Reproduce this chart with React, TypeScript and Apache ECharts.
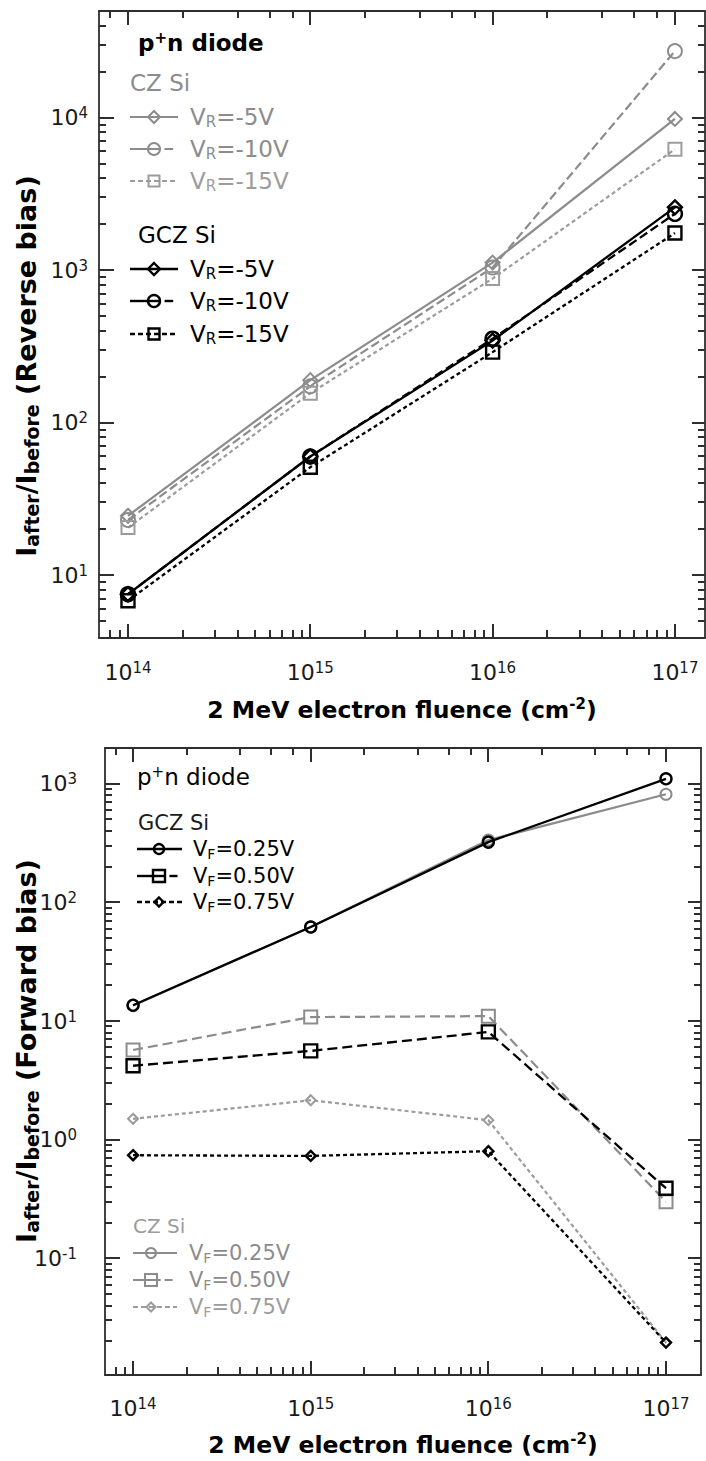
import React, { useEffect, useRef } from 'react';
import * as echarts from 'echarts';

// ---------------- data ----------------
const fluence = [1e14, 1e15, 1e16, 1e17];
const fluenceExponents = [14, 15, 16, 17];

// Reverse bias (top panel)
const czRev5V = [24.5, 190, 1120, 9800];
const czRev10V = [23, 173, 1040, 27300];
const czRev15V = [20.5, 156, 880, 6200];
const gczRev5V = [7.5, 60, 345, 2580];
const gczRev10V = [7.5, 60, 355, 2340];
const gczRev15V = [6.8, 51, 290, 1750];
const revYExponents = [1, 2, 3, 4];

// Forward bias (bottom panel)
const gczFwd025 = [13.6, 62, 322, 1100];
const gczFwd050 = [4.2, 5.6, 8.1, 0.39];
const gczFwd075 = [0.74, 0.73, 0.8, 0.0195];
const czFwd025 = [13.5, 62, 335, 815];
const czFwd050 = [5.7, 10.8, 11.0, 0.3];
const czFwd075 = [1.5, 2.15, 1.46, 0.0195];
const fwdYExponents = [-1, 0, 1, 2, 3];

// ---------------- style ----------------
const FONT = 'DejaVu Sans';
const BLACK = '#000000';
const GRAY = '#8c8c8c';
const LGRAY = '#9c9c9c';
const FRAME = '#2e2e2e';

const LONG_DASH = [9, 4];
const SHORT_DASH = [4, 3];

const ALL_MINOR = [2, 3, 4, 5, 6, 7, 8, 9];
const EVEN_MINOR = [2, 4, 6, 8];

const GRIDS = [
  { left: 99, top: 11, width: 606, height: 627 },
  { left: 105, top: 748, width: 596, height: 627 },
];

function logMinor(min: number, max: number, ks: number[]) {
  const out: number[] = [];
  for (let d = Math.floor(min); d <= Math.ceil(max); d++) {
    for (const k of ks) {
      const v = d + Math.log10(k);
      if (v > min + 0.02 && v < max - 0.005) out.push(v);
    }
  }
  return out;
}

const powRich = {
  b: { fontFamily: FONT, fontSize: 22, color: '#1a1a1a', lineHeight: 24 },
  s: { fontFamily: FONT, fontSize: 15, color: '#1a1a1a', verticalAlign: 'top', lineHeight: 14 },
};
const powFormatter = (v: number) => '{b|10}{s|' + Math.round(v) + '}';

function axisSet(
  grid: number, xr: number[], yr: number[],
  xMajors: number[], yMajors: number[], xLabelMargin: number, yLabelMargin: number
) {
  const lineOn = { show: true, onZero: false, lineStyle: { color: FRAME, width: 1.8 } };
  const common: any = {
    type: 'value', gridIndex: grid,
    splitLine: { show: false }, axisTick: { show: false }, axisLine: lineOn,
  };
  const xAxes = [
    {
      ...common, min: xr[0], max: xr[1], position: 'bottom',
      axisLabel: { show: true, customValues: xMajors, formatter: powFormatter, rich: powRich, margin: xLabelMargin, fontFamily: FONT },
    },
    { ...common, min: xr[0], max: xr[1], position: 'top', axisLabel: { show: false } },
  ];
  const yAxes = [
    {
      ...common, min: yr[0], max: yr[1], position: 'left',
      axisLabel: { show: true, customValues: yMajors, formatter: powFormatter, rich: powRich, margin: yLabelMargin, fontFamily: FONT },
    },
    { ...common, min: yr[0], max: yr[1], position: 'right', axisLabel: { show: false } },
  ];
  return { xAxes, yAxes };
}

// tick marks: positions come from the chart's own axis scales (convertToPixel)
function tickElements(chart: any, gridIdx: number, axisIndex: number, xr: number[], yr: number[], xMajors: number[], yMajors: number[]) {
  const gr = GRIDS[gridIdx];
  const els: any[] = [];
  const st = { stroke: FRAME, lineWidth: 2 };
  const bottom = gr.top + gr.height;
  const right = gr.left + gr.width;
  const xTick = (v: number, len: number, atTop: boolean) => {
    const x = Math.round(chart.convertToPixel({ xAxisIndex: axisIndex }, v));
    const y1 = atTop ? gr.top : bottom;
    const y2 = atTop ? gr.top + len : bottom - len;
    els.push({ type: 'line', shape: { x1: x, y1, x2: x, y2 }, style: st, z: 50, silent: true });
  };
  const yTick = (v: number, len: number, atRight: boolean) => {
    const y = Math.round(chart.convertToPixel({ yAxisIndex: axisIndex }, v));
    const x1 = atRight ? right : gr.left;
    const x2 = atRight ? right - len : gr.left + len;
    els.push({ type: 'line', shape: { x1, y1: y, x2, y2: y }, style: st, z: 50, silent: true });
  };
  xMajors.forEach((v) => { xTick(v, 14, false); xTick(v, 14, true); });
  logMinor(xr[0], xr[1], ALL_MINOR).forEach((v) => xTick(v, 8, false));
  logMinor(xr[0], xr[1], EVEN_MINOR).forEach((v) => xTick(v, 7, true));
  yMajors.forEach((v) => { yTick(v, 15, false); yTick(v, 13, true); });
  logMinor(yr[0], yr[1], ALL_MINOR).forEach((v) => { yTick(v, 7, false); yTick(v, 7, true); });
  return els;
}

function lineSeries(
  name: string, values: number[], axisIndex: number, color: string, width: number,
  dash: any, symbol: string, size: number, border: number, z: number
) {
  return {
    type: 'line', name,
    xAxisIndex: axisIndex, yAxisIndex: axisIndex,
    data: fluence.map((f, i) => [Math.log10(f), Math.log10(values[i])]),
    symbol, symbolSize: size, showAllSymbol: true,
    lineStyle: { color, width, type: dash },
    itemStyle: { color: 'rgba(0,0,0,0)', borderColor: color, borderWidth: border },
    emphasis: { disabled: true }, z,
  };
}

// ---------------- legend helpers (graphic) ----------------
function marker(kind: string, cx: number, cy: number, s: number, color: string, lw: number) {
  const style = { fill: 'none', stroke: color, lineWidth: lw };
  if (kind === 'circle') return { type: 'circle', shape: { cx, cy, r: s / 2 }, style, z: 110 };
  if (kind === 'rect') return { type: 'rect', shape: { x: cx - s / 2, y: cy - s / 2, width: s, height: s }, style, z: 110 };
  return {
    type: 'polygon',
    shape: { points: [[cx, cy - s / 2], [cx + s / 2, cy], [cx, cy + s / 2], [cx - s / 2, cy]] },
    style, z: 110,
  };
}

function legendEntry(
  x0: number, x1: number, y: number, mx: number, textX: number, kind: string, pattern: string,
  color: string, lw: number, msize: number, text: string, fontSize: number, subSize: number
) {
  const els: any[] = [];
  const L = x1 - x0;
  const ls = { stroke: color, lineWidth: lw };
  if (pattern === 'solid') {
    els.push({ type: 'line', shape: { x1: x0, y1: y, x2: x1, y2: y }, style: ls, z: 100 });
  } else if (pattern === 'long') {
    els.push({ type: 'line', shape: { x1: x0, y1: y, x2: x0 + 0.63 * L, y2: y }, style: ls, z: 100 });
    els.push({ type: 'line', shape: { x1: x0 + 0.72 * L, y1: y, x2: x0 + 0.9 * L, y2: y }, style: ls, z: 100 });
  } else {
    els.push({ type: 'line', shape: { x1: x0, y1: y, x2: x1, y2: y }, style: { ...ls, lineDash: [5, 3] }, z: 100 });
  }
  els.push(marker(kind, mx, y, msize, color, lw));
  els.push({
    type: 'text', x: textX, y, z: 110,
    style: {
      text, align: 'left', verticalAlign: 'middle', fill: color,
      rich: {
        v: { fontFamily: FONT, fontSize, fill: color, lineHeight: fontSize + 2 },
        sub: { fontFamily: FONT, fontSize: subSize, fill: color, verticalAlign: 'bottom', lineHeight: subSize - 3 },
      },
    },
  });
  return els;
}

function plainText(x: number, y: number, text: string, size: number, color: string, weight: string) {
  return {
    type: 'text', x, y, z: 110,
    style: {
      text, align: 'left', verticalAlign: 'middle', fill: color,
      rich: {
        a: { fontFamily: FONT, fontSize: size, fontWeight: weight, fill: color, lineHeight: size + 2 },
        sup: { fontFamily: FONT, fontSize: Math.round(size * 0.65), fontWeight: weight, fill: color, verticalAlign: 'top', lineHeight: Math.round(size * 0.6) },
      },
    },
  };
}

function yTitle(x: number, y: number, label: string) {
  return {
    type: 'text', x, y, rotation: Math.PI / 2, z: 110,
    style: {
      text: '{t|I}{s|after}{t|/I}{s|before}{t| (' + label + ')}',
      align: 'center', verticalAlign: 'middle', fill: BLACK,
      rich: {
        t: { fontFamily: FONT, fontSize: 27, fontWeight: 'bold', fill: BLACK, lineHeight: 30 },
        s: { fontFamily: FONT, fontSize: 19, fontWeight: 'bold', fill: BLACK, verticalAlign: 'bottom', lineHeight: 15 },
      },
    },
  };
}

function xTitle(x: number, y: number) {
  return {
    type: 'text', x, y, z: 110,
    style: {
      text: '{t|2 MeV electron fluence (cm}{s|-2}{t|)}',
      align: 'center', verticalAlign: 'middle', fill: BLACK,
      rich: {
        t: { fontFamily: FONT, fontSize: 23.5, fontWeight: 'bold', fill: BLACK, lineHeight: 28 },
        s: { fontFamily: FONT, fontSize: 15, fontWeight: 'bold', fill: BLACK, verticalAlign: 'top', lineHeight: 14 },
      },
    },
  };
}

export default function App() {
  const ref = useRef<HTMLDivElement>(null);

  useEffect(() => {
    if (!ref.current) return;
    const chart = echarts.init(ref.current, undefined, { renderer: 'svg' });

    const topX = [13.841, 17.165];
    const topY = [0.588, 4.699];
    const botX = [13.842, 17.197];
    const botY = [-1.983, 3.301];

    const top = axisSet(0, topX, topY, fluenceExponents, revYExponents, 22, 11);
    const bot = axisSet(1, botX, botY, fluenceExponents, fwdYExponents, 21, 28);

    const series = [
      // top panel, CZ (gray)
      lineSeries('CZ VR=-5V', czRev5V, 0, GRAY, 2.2, 'solid', 'diamond', 14, 2, 2),
      lineSeries('CZ VR=-10V', czRev10V, 0, GRAY, 2.2, LONG_DASH, 'circle', 14, 2, 2),
      lineSeries('CZ VR=-15V', czRev15V, 0, LGRAY, 2.2, SHORT_DASH, 'rect', 13, 2, 2),
      // top panel, GCZ (black)
      lineSeries('GCZ VR=-15V', gczRev15V, 0, BLACK, 2.3, SHORT_DASH, 'rect', 13, 2.4, 3),
      lineSeries('GCZ VR=-10V', gczRev10V, 0, BLACK, 2.3, LONG_DASH, 'circle', 14, 2.4, 3),
      lineSeries('GCZ VR=-5V', gczRev5V, 0, BLACK, 2.3, 'solid', 'diamond', 14, 2.4, 3),
      // bottom panel, CZ (gray)
      lineSeries('CZ VF=0.25V', czFwd025, 2, GRAY, 2.2, 'solid', 'circle', 11, 2, 2),
      lineSeries('CZ VF=0.50V', czFwd050, 2, GRAY, 2.2, [10, 5], 'rect', 13, 2, 2),
      lineSeries('CZ VF=0.75V', czFwd075, 2, LGRAY, 2.2, SHORT_DASH, 'diamond', 10, 2, 2),
      // bottom panel, GCZ (black)
      lineSeries('GCZ VF=0.25V', gczFwd025, 2, BLACK, 2.3, 'solid', 'circle', 11, 2.4, 3),
      lineSeries('GCZ VF=0.50V', gczFwd050, 2, BLACK, 2.3, [10, 5], 'rect', 13, 2.4, 3),
      lineSeries('GCZ VF=0.75V', gczFwd075, 2, BLACK, 2.3, SHORT_DASH, 'diamond', 10, 2.4, 3),
    ];

    const g: any[] = [];
    // top legend
    g.push(plainText(138, 43, '{a|p}{sup|+}{a|n diode}', 23, BLACK, 'bold'));
    g.push(plainText(130, 83, '{a|CZ Si}', 23, GRAY, 'normal'));
    g.push(...legendEntry(130, 178, 117, 154, 190, 'diamond', 'solid', GRAY, 2, 12, '{v|V}{sub|R}{v|=-5V}', 23, 15));
    g.push(...legendEntry(130, 178, 149, 154, 190, 'circle', 'long', GRAY, 2, 12, '{v|V}{sub|R}{v|=-10V}', 23, 15));
    g.push(...legendEntry(130, 178, 181, 154, 190, 'rect', 'short', LGRAY, 2, 11, '{v|V}{sub|R}{v|=-15V}', 23, 15));
    g.push(plainText(138, 235, '{a|GCZ Si}', 23, BLACK, 'normal'));
    g.push(...legendEntry(130, 178, 269, 154, 190, 'diamond', 'solid', BLACK, 2.4, 12, '{v|V}{sub|R}{v|=-5V}', 23, 15));
    g.push(...legendEntry(130, 178, 301, 154, 190, 'circle', 'long', BLACK, 2.4, 12, '{v|V}{sub|R}{v|=-10V}', 23, 15));
    g.push(...legendEntry(130, 178, 334, 154, 190, 'rect', 'short', BLACK, 2.4, 11, '{v|V}{sub|R}{v|=-15V}', 23, 15));

    // bottom legend
    g.push(plainText(137, 777, '{a|p}{sup|+}{a|n diode}', 23, BLACK, 'normal'));
    g.push(plainText(138, 823, '{a|GCZ Si}', 21, '#1a1a1a', 'normal'));
    g.push(...legendEntry(137, 182, 849, 159, 193, 'circle', 'solid', BLACK, 2.4, 10, '{v|V}{sub|F}{v|=0.25V}', 21, 14));
    g.push(...legendEntry(137, 182, 876, 159, 193, 'rect', 'long', BLACK, 2.4, 12, '{v|V}{sub|F}{v|=0.50V}', 21, 14));
    g.push(...legendEntry(137, 182, 902, 159, 193, 'diamond', 'short', BLACK, 2.4, 9, '{v|V}{sub|F}{v|=0.75V}', 21, 14));
    g.push(plainText(133, 1226, '{a|CZ Si}', 20, LGRAY, 'normal'));
    g.push(...legendEntry(133, 177, 1253, 151, 189, 'circle', 'solid', GRAY, 2, 10, '{v|V}{sub|F}{v|=0.25V}', 21, 14));
    g.push(...legendEntry(133, 177, 1280, 151, 189, 'rect', 'long', GRAY, 2, 12, '{v|V}{sub|F}{v|=0.50V}', 21, 14));
    g.push(...legendEntry(133, 177, 1307, 151, 189, 'diamond', 'short', LGRAY, 2, 9, '{v|V}{sub|F}{v|=0.75V}', 21, 14));

    // axis titles
    g.push(yTitle(26, 366, 'Reverse bias'));
    g.push(yTitle(26, 1051, 'Forward bias'));
    g.push(xTitle(402, 710));
    g.push(xTitle(403, 1445));

    const option: any = {
      animation: false,
      backgroundColor: '#ffffff',
      grid: GRIDS,
      xAxis: [...top.xAxes, ...bot.xAxes],
      yAxis: [...top.yAxes, ...bot.yAxes],
      series,
    };
    chart.setOption(option);

    let ticks: any[] = [];
    try {
      ticks = [
        ...tickElements(chart, 0, 0, topX, topY, fluenceExponents, revYExponents),
        ...tickElements(chart, 1, 2, botX, botY, fluenceExponents, fwdYExponents),
      ];
    } catch (e) {
      ticks = [];
    }
    chart.setOption({ graphic: { elements: [...g, ...ticks] } });
    return () => chart.dispose();
  }, []);

  return (
    <div
      ref={ref}
      style={{ position: 'absolute', left: 0, top: 0, width: 706, height: 1461, background: '#fff' }}
    />
  );
}
